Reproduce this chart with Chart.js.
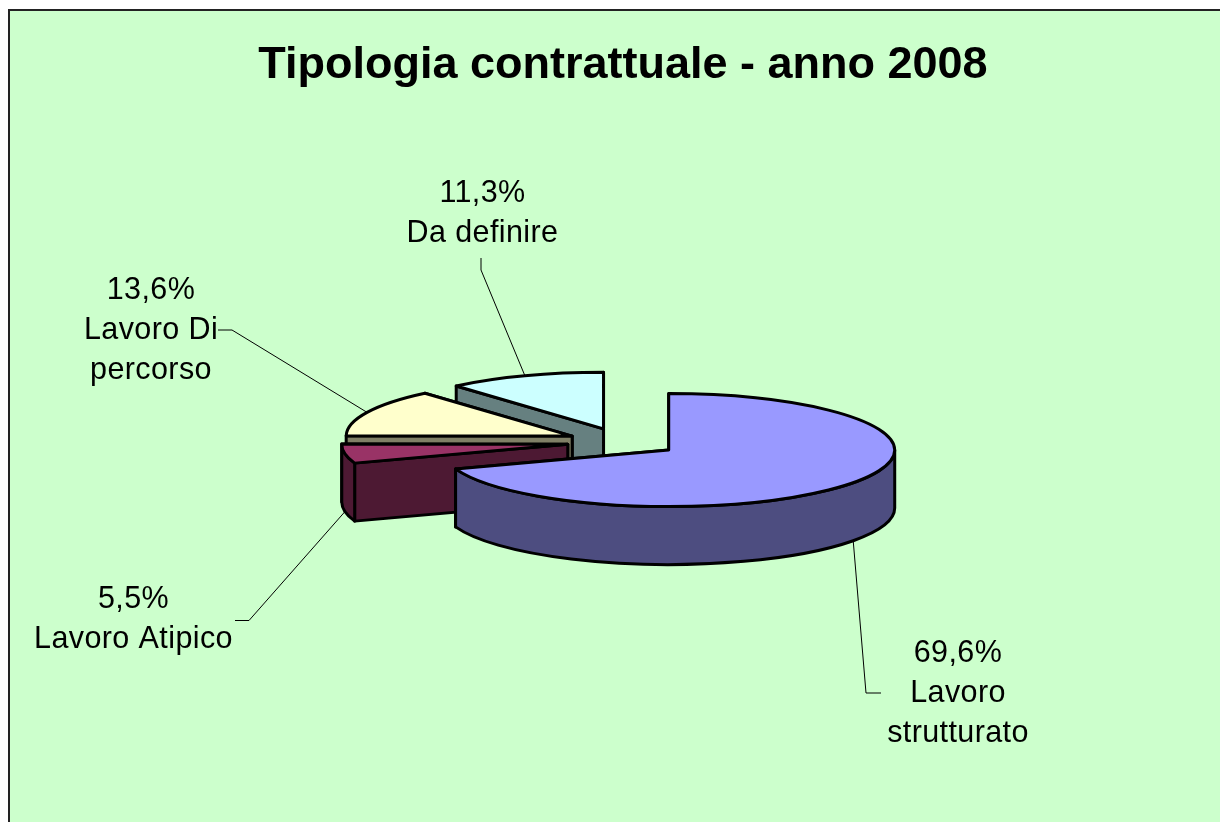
<!DOCTYPE html>
<html>
<head>
<meta charset="utf-8">
<style>html,body{margin:0;padding:0;background:#fff}canvas{display:block}</style>
<script src="https://cdn.jsdelivr.net/npm/chart.js@4"></script>
</head>
<body>
<div style="width:1220px;height:822px"><canvas id="c" width="1220" height="822"></canvas></div>
<script>
const chartTitle = 'Tipologia contrattuale - anno 2008';
const categories = ['Lavoro strutturato', 'Lavoro Atipico', 'Lavoro Di percorso', 'Da definire'];
const values = [69.6, 5.5, 13.6, 11.3];
const topColors = ['#9999FF', '#993366', '#FFFFCC', '#CCFFFF'];
const wallColors = ['#4D4D80', '#4D1933', '#808066', '#668080'];
const labelLines = [['Lavoro', 'strutturato'], ['Lavoro Atipico'], ['Lavoro Di', 'percorso'], ['Da definire']];

const SQUASH = 0.25, EXPLODE = 56, DEPTH = 58, RADIUS = 226;
const labelCenter = [[958, 654], [133.5, 599.5], [151, 291], [482.5, 194]];
const leaderBends = [[[866, 693], [881, 693]], [[249, 620.5], [235, 620.5]], [[232, 330], [218, 330]], [[481, 270], [481, 258]]];
const LINE_H = 40;

function fmt(v) { return v.toFixed(1).replace('.', ',') + '%'; }

const pie3d = {
  id: 'pie3d',
  beforeDraw(chart) {
    const { ctx, width, height } = chart;
    ctx.save();
    ctx.fillStyle = '#fff';
    ctx.fillRect(0, 0, width, height);
    ctx.fillStyle = '#CCFFCC';
    ctx.fillRect(9, 10, width, height);
    ctx.strokeStyle = '#222';
    ctx.lineWidth = 2;
    ctx.strokeRect(9, 10, width + 20, height + 20);
    ctx.restore();
  },
  beforeDatasetsDraw(chart) {
    const { ctx } = chart;
    const arcs = chart.getDatasetMeta(0).data;
    const order = arcs.map((_, i) => i).reverse();
    for (const i of order) {
      const a = arcs[i];
      const g = geom(a);
      ctx.save();
      ctx.lineWidth = 3;
      ctx.lineJoin = 'round';
      ctx.strokeStyle = '#000';
      ctx.fillStyle = wallColors[i];
      for (const ang of [a.endAngle, a.startAngle]) {
        const p = g.rim(ang);
        ctx.beginPath();
        ctx.moveTo(g.x, g.y);
        ctx.lineTo(p[0], p[1]);
        ctx.lineTo(p[0], p[1] + DEPTH);
        ctx.lineTo(g.x, g.y + DEPTH);
        ctx.closePath();
        ctx.fill();
        ctx.stroke();
      }
      const s = Math.max(a.startAngle, 0), e = Math.min(a.endAngle, Math.PI);
      if (e > s) {
        ctx.beginPath();
        ctx.ellipse(g.x, g.y, a.outerRadius, a.outerRadius * SQUASH, 0, s, e);
        ctx.ellipse(g.x, g.y + DEPTH, a.outerRadius, a.outerRadius * SQUASH, 0, e, s, true);
        ctx.closePath();
        ctx.fill();
        ctx.stroke();
      }
      // top face: the library's own arc element, flattened and moved out
      ctx.save();
      ctx.translate(g.x, g.y);
      ctx.scale(1, SQUASH);
      ctx.translate(-a.x, -a.y);
      a.draw(ctx);
      ctx.restore();
      ctx.beginPath();
      ctx.moveTo(g.x, g.y);
      ctx.ellipse(g.x, g.y, a.outerRadius, a.outerRadius * SQUASH, 0, a.startAngle, a.endAngle);
      ctx.closePath();
      ctx.stroke();
      ctx.restore();
    }
    return false;
  },
  afterDraw(chart) {
    const { ctx } = chart;
    const arcs = chart.getDatasetMeta(0).data;
    ctx.save();
    arcs.forEach((a, i) => {
      const g = geom(a);
      const mid = (a.startAngle + a.endAngle) / 2;
      const p = g.rim(mid);
      const front = Math.sin(mid) > 0;
      ctx.strokeStyle = '#000';
      ctx.lineWidth = 1;
      ctx.beginPath();
      ctx.moveTo(p[0], p[1] + (front ? DEPTH : 0));
      leaderBends[i].forEach(b => ctx.lineTo(b[0], b[1]));
      ctx.stroke();
      ctx.fillStyle = '#000';
      ctx.font = '30.5px "Liberation Sans", Arial, sans-serif';
      ctx.letterSpacing = '0.4px';
      ctx.textAlign = 'center';
      ctx.textBaseline = 'middle';
      const lines = [fmt(values[i])].concat(labelLines[i]);
      lines.forEach((t, k) => ctx.fillText(t, labelCenter[i][0], labelCenter[i][1] + k * LINE_H));
    });
    ctx.restore();
  }
};

function geom(a) {
  const mid = (a.startAngle + a.endAngle) / 2;
  const x = a.x + Math.cos(mid) * EXPLODE;
  const y = a.y + Math.sin(mid) * EXPLODE * SQUASH;
  return {
    x, y,
    rim: ang => [x + Math.cos(ang) * a.outerRadius, y + Math.sin(ang) * a.outerRadius * SQUASH]
  };
}

new Chart(document.getElementById('c'), {
  type: 'pie',
  data: {
    labels: categories,
    datasets: [{ data: values, backgroundColor: topColors, borderWidth: 0 }]
  },
  plugins: [pie3d],
  options: {
    responsive: false,
    animation: false,
    radius: RADIUS,
    layout: { padding: { left: 26, bottom: 41 } },
    plugins: {
      legend: { display: false },
      tooltip: { enabled: false },
      title: {
        display: true,
        text: chartTitle,
        color: '#000',
        font: { family: '"Liberation Sans", Arial, sans-serif', size: 45, weight: 'bold' },
        padding: { top: 39, bottom: 10 }
      }
    }
  }
});
</script>
</body>
</html>
